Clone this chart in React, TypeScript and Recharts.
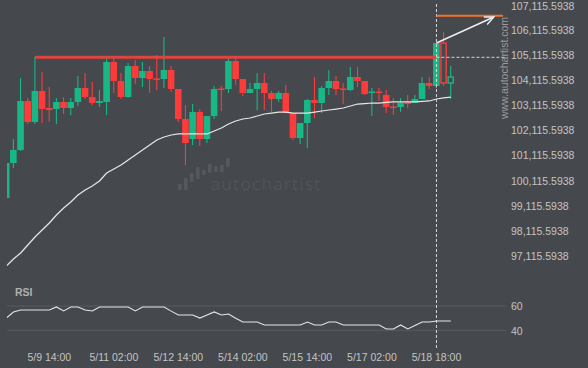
import React from "react";
import { ComposedChart, Bar, Line, XAxis, YAxis, ReferenceLine } from "recharts";

// ---- data (4-hour candles) ----
const opens = [
  99404, 100795, 101312, 103260, 102425, 103657, 102981, 102941, 103220, 102981,
  103220, 103776, 103418, 103180, 103220, 104810, 104054, 103418, 104651, 104174,
  104452, 104154, 104134, 104492, 103736, 102544, 101749, 102822, 101749, 102663,
  103756, 103736, 104849, 104134, 103577, 103736, 103975, 103577, 103339, 103577,
  102782, 101789, 102385, 103299, 103180, 103776, 104054, 103756, 103697, 104213,
  104054, 103597, 103637, 103498, 103041, 103021, 103200, 103180, 103339, 103975,
  103856, 105565, 103975,
];
const highs = [
  100795, 101749, 104174, 103379, 105008, 104412, 103816, 103379, 103418, 103379,
  104253, 104372, 104015, 103697, 104968, 104968, 104372, 104770, 104889, 104810,
  104651, 105088, 105803, 104651, 103736, 103101, 103140, 102941, 102663, 103856,
  103856, 104968, 104968, 104134, 103975, 104372, 104372, 103657, 103657, 103895,
  102782, 102385, 103339, 104213, 103856, 104492, 104253, 103975, 104611, 104611,
  104054, 103776, 103776, 103697, 103379, 103379, 103498, 103498, 104213, 104213,
  105565, 106002, 104651,
];
const lows = [
  99404, 100597, 101272, 102345, 102345, 102385, 102425, 102345, 102743, 102703,
  103061, 103339, 103101, 103021, 102703, 103577, 103339, 103379, 103935, 103816,
  103577, 103697, 103776, 103617, 102425, 100716, 101511, 101471, 101590, 102544,
  102862, 103577, 103895, 103458, 103577, 102902, 102902, 102822, 103220, 102743,
  101709, 101550, 101391, 102584, 102782, 103498, 103498, 103140, 103657, 103816,
  103498, 102663, 103260, 102782, 102703, 102822, 102981, 103180, 103339, 103736,
  103776, 103856, 103339,
];
const closes = [
  100795, 101312, 103260, 102425, 103657, 102941, 102902, 103220, 102981, 103220,
  103776, 103418, 103180, 103260, 104810, 104054, 103418, 104651, 104174, 104452,
  104134, 104114, 104492, 103736, 102544, 101590, 102822, 101749, 102663, 103736,
  103716, 104849, 104134, 103577, 103736, 103975, 103577, 103339, 103577, 102782,
  101789, 102385, 103299, 103180, 103776, 104054, 103736, 103716, 104213, 104054,
  103538, 103637, 103597, 103021, 103001, 103180, 103160, 103339, 103975, 103856,
  105565, 103975, 104213,
];
const movingAverage = [
  96701, 96980, 97218, 97536, 97854, 98132, 98410, 98728, 99007, 99245,
  99523, 99722, 99881, 100080, 100398, 100557, 100716, 100914, 101113, 101312,
  101511, 101709, 101829, 101908, 101948, 101948, 101948, 101948, 101948, 102067,
  102186, 102345, 102465, 102544, 102584, 102663, 102743, 102782, 102822, 102822,
  102782, 102782, 102782, 102822, 102862, 102902, 102941, 102981, 103061, 103140,
  103160, 103180, 103180, 103200, 103220, 103220, 103220, 103220, 103240, 103260,
  103339, 103379, 103418,
];
const rsiValues = [
  50.1, 55, 56.7, 56.7, 56.7, 56.7, 56.7, 59.2, 55.9, 59.2,
  59.2, 56.7, 55.9, 59.2, 59.2, 59.2, 59.2, 59.2, 55.9, 59.2,
  59.2, 59.2, 59.2, 55.8, 52.6, 52.6, 52.6, 50.1, 52.6, 55.1,
  52.6, 53.4, 50, 46.8, 46.8, 46.8, 44.4, 44.4, 44.4, 44.4,
  44.4, 44.4, 46.8, 44.4, 44.4, 46.8, 46.8, 44.4, 44.4, 44.4,
  44.4, 44.4, 44.4, 41.1, 41.1, 44.4, 41.1, 44, 46.8, 46.8,
  47.7, 47.7, 47.7,
];
const hollowCandles = [61, 62];

const priceTicks = [
  97115.5938, 98115.5938, 99115.5938, 100115.5938, 101115.5938, 102115.5938,
  103115.5938, 104115.5938, 105115.5938, 106115.5938, 107115.5938,
];
const rsiTicks = [40, 60];
const timeTicks = [6, 15, 24, 33, 42, 51, 60];
const timeLabels = ["5/9 14:00", "5/11 02:00", "5/12 14:00", "5/14 02:00", "5/15 14:00", "5/17 02:00", "5/18 18:00"];

// pattern levels
const resistanceLevel = 104996;
const resistanceStart = 4;
const breakoutIndex = 60;
const targetLevel = 106650;
const targetEndIndex = 69.3;
const projectionStart = { x: 60, y: 105565 };
const projectionEnd = { x: 68, y: 106598 };

// ---- styling / scales ----
const BG = "#45484d";
const GREEN = "#17b886";
const RED = "#fd3b3b";
const TEXT = "#c4c4c4";
const FONT = "'Liberation Sans', Arial, sans-serif";
const X_DOMAIN: [number, number] = [0.1, 69.7];
const PRICE_DOMAIN: [number, number] = [96145, 107273.8];
const RSI_DOMAIN: [number, number] = [23.8, 81.4];

const candles = opens.map((o, i) => ({
  i,
  o,
  h: highs[i],
  l: lows[i],
  c: closes[i],
  range: [lows[i], highs[i]],
  ma: movingAverage[i],
  rsi: rsiValues[i],
  hollow: hollowCandles.includes(i),
}));

const fmtPrice = (v: number) =>
  v.toLocaleString("en-US", { minimumFractionDigits: 4, maximumFractionDigits: 4 });

const Candle = (props: any) => {
  const { x, y, width, height, payload } = props;
  if (!payload) return null;
  const { o, h, l, c, hollow } = payload;
  const up = c >= o;
  const color = up ? GREEN : RED;
  const top = Math.min(y, y + height);
  const span = Math.abs(height);
  const cx = x + width / 2;
  const py = (v: number) => top + ((h - v) / (h - l || 1)) * span;
  const bTop = py(Math.max(o, c));
  const bBot = py(Math.min(o, c));
  const bh = Math.max(bBot - bTop, 1.5);
  const bw = 6.6;
  return (
    <g>
      <line x1={cx} x2={cx} y1={top} y2={top + span} stroke={color} strokeWidth={1.1} />
      {hollow ? (
        <rect x={cx - bw / 2 + 0.7} y={bTop} width={bw - 1.4} height={bh} fill={BG} stroke={color} strokeWidth={1.4} />
      ) : (
        <rect x={cx - bw / 2} y={bTop} width={bw} height={bh} fill={color} />
      )}
    </g>
  );
};

const RightTick = (props: any) => {
  const { x, y, payload, fmt } = props;
  const yy = Math.max(y + 0.8, 6.4);
  return (
    <text x={x + 5} y={yy} dy="0.35em" textAnchor="start" fill={TEXT} fontSize={10.5} fontFamily={FONT}>
      {fmt ? fmt(payload.value) : payload.value}
    </text>
  );
};

const TimeTick = (props: any) => {
  const { x, y, payload } = props;
  const k = timeTicks.indexOf(payload.value);
  return (
    <text x={x} y={y + 7} dy="0.35em" textAnchor="middle" fill={TEXT} fontSize={10.5} fontFamily={FONT}>
      {k >= 0 ? timeLabels[k] : ""}
    </text>
  );
};

const ArrowLine = (props: any) => {
  const { x1, y1, x2, y2 } = props;
  if ([x1, y1, x2, y2].some((v) => typeof v !== "number" || isNaN(v))) return null;
  const ang = Math.atan2(y2 - y1, x2 - x1);
  const len = 10;
  const a1 = ang + Math.PI - 0.42;
  const a2 = ang + Math.PI + 0.42;
  return (
    <g>
      <line x1={x1} y1={y1} x2={x2} y2={y2} stroke="#f0f0f0" strokeWidth={1.4} />
      <polyline
        points={`${x2 + len * Math.cos(a1)},${y2 + len * Math.sin(a1)} ${x2},${y2} ${x2 + len * Math.cos(a2)},${y2 + len * Math.sin(a2)}`}
        fill="none"
        stroke="#f0f0f0"
        strokeWidth={1.4}
      />
    </g>
  );
};

const Watermark = () => (
  <svg style={{ position: "absolute", left: 0, top: 0 }} width={588} height={368}>
    {[
      [178, 184, 190],
      [184, 178, 190],
      [190, 173, 182],
      [196, 167, 179],
      [202, 170, 175],
      [208, 164, 173],
      [214, 166, 172],
      [220, 165, 172],
      [226, 158, 167],
    ].map(([bx, t, b], k) => (
      <rect key={k} x={bx} y={t} width={3.6} height={b - t} rx={1} fill="#55595e" />
    ))}
    <text x={211} y={190} fontSize={17} letterSpacing={1.6} fill="#55595e" fontFamily="'Open Sans', 'DejaVu Sans', sans-serif" fontWeight={300}>
      autochartist
    </text>
  </svg>
);

export default function App() {
  return (
    <div style={{ position: "absolute", left: 0, top: 0, width: 588, height: 368, background: BG, overflow: "hidden", fontFamily: FONT }}>
      <Watermark />
      <div style={{ position: "absolute", left: 0, top: 0 }}>
        <ComposedChart width={588} height={280} data={candles} margin={{ top: 0, right: 0, bottom: 0, left: 7 }}>
          <XAxis type="number" dataKey="i" domain={X_DOMAIN} hide allowDataOverflow />
          <YAxis
            orientation="right"
            width={82}
            domain={PRICE_DOMAIN}
            ticks={priceTicks}
            interval={0}
            tick={<RightTick fmt={fmtPrice} />}
            tickLine={false}
            axisLine={false}
            tickSize={0}
            tickMargin={0}
            allowDataOverflow
          />
          <Line dataKey="ma" stroke="#e6e6e6" strokeWidth={1.25} dot={false} isAnimationActive={false} />
          <Bar dataKey="range" barSize={7} shape={<Candle />} isAnimationActive={false} />
          <ReferenceLine
            segment={[{ x: resistanceStart, y: resistanceLevel }, { x: breakoutIndex, y: resistanceLevel }]}
            stroke="#e0443f"
            strokeWidth={3}
          />
          <ReferenceLine
            segment={[{ x: breakoutIndex, y: resistanceLevel }, { x: X_DOMAIN[1], y: resistanceLevel }]}
            stroke="#d8d8d8"
            strokeWidth={1}
            strokeDasharray="3 2"
          />
          <ReferenceLine
            segment={[{ x: breakoutIndex, y: 107115.5938 }, { x: breakoutIndex, y: PRICE_DOMAIN[0] }]}
            stroke="#d8d8d8"
            strokeWidth={1}
            strokeDasharray="3 2"
          />
          <ReferenceLine
            segment={[{ x: breakoutIndex, y: targetLevel }, { x: targetEndIndex, y: targetLevel }]}
            stroke="#f4702c"
            strokeWidth={2}
          />
          <ReferenceLine segment={[projectionStart, projectionEnd]} shape={<ArrowLine />} />
        </ComposedChart>
      </div>
      <div style={{ position: "absolute", left: 0, top: 280 }}>
        <ComposedChart width={588} height={88} data={candles} margin={{ top: 0, right: 0, bottom: 0, left: 7 }}>
          <XAxis
            type="number"
            dataKey="i"
            domain={X_DOMAIN}
            ticks={timeTicks}
            interval={0}
            tick={<TimeTick />}
            tickLine={false}
            axisLine={false}
            tickSize={0}
            tickMargin={0}
            height={18}
            allowDataOverflow
          />
          <YAxis
            orientation="right"
            width={82}
            domain={RSI_DOMAIN}
            ticks={rsiTicks}
            interval={0}
            tick={<RightTick />}
            tickLine={false}
            axisLine={false}
            tickSize={0}
            tickMargin={0}
            allowDataOverflow
          />
          <ReferenceLine y={60} stroke="#595d62" strokeWidth={1} />
          <ReferenceLine y={40} stroke="#595d62" strokeWidth={1} />
          <ReferenceLine
            segment={[{ x: breakoutIndex, y: RSI_DOMAIN[1] }, { x: breakoutIndex, y: RSI_DOMAIN[0] }]}
            stroke="#d8d8d8"
            strokeWidth={1}
            strokeDasharray="3 2"
          />
          <Line dataKey="rsi" stroke="#e6e6e6" strokeWidth={1.1} dot={false} isAnimationActive={false} />
        </ComposedChart>
      </div>
      <svg style={{ position: "absolute", left: 0, top: 0, pointerEvents: "none" }} width={588} height={368}>
        <text
          x={503.5}
          y={68}
          transform="rotate(-90 503.5 68)"
          textAnchor="middle"
          dominantBaseline="central"
          fontSize={10.5}
          fill="#9c9c9c"
          fontFamily={FONT}
        >
          www.autochartist.com
        </text>
        <text x={15} y={291.5} dominantBaseline="central" fontSize={10.5} fontWeight="bold" fill="#b0b0b0" fontFamily={FONT}>
          RSI
        </text>
      </svg>
    </div>
  );
}
